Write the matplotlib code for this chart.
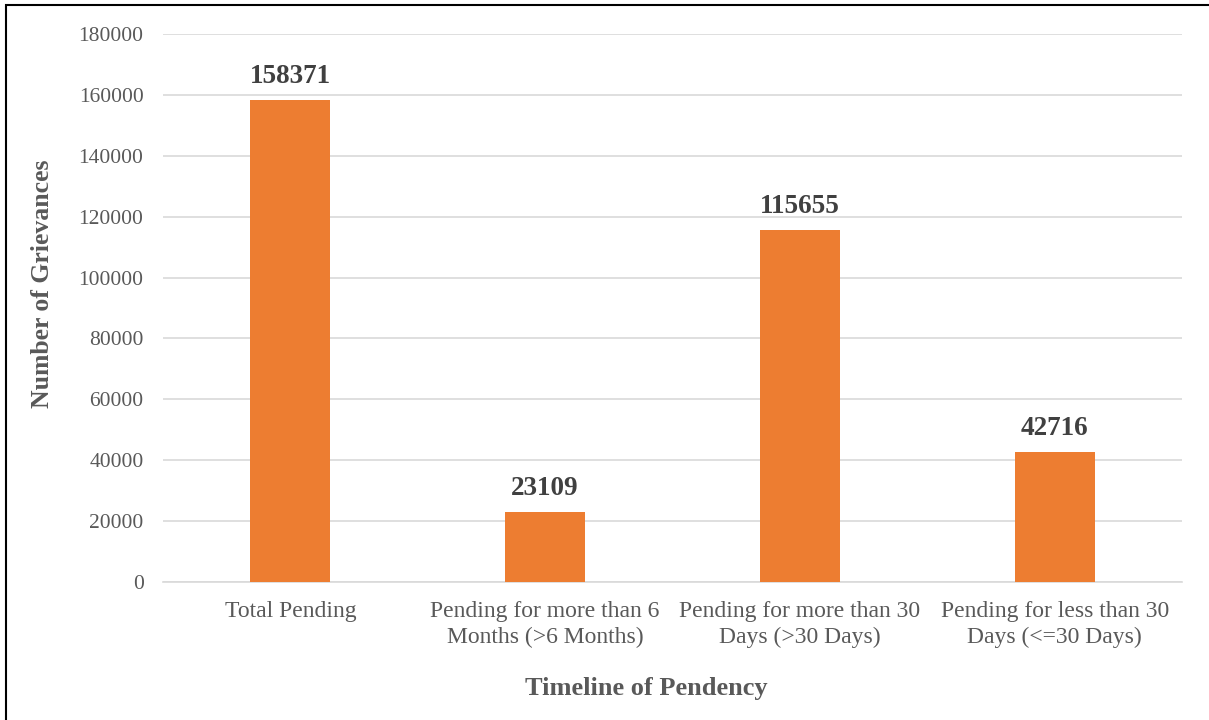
import matplotlib
matplotlib.use("Agg")
from matplotlib import pyplot as plt
from matplotlib.patches import Rectangle

# Pending grievances by timeline
categories = ["Total Pending",
              "Pending for more than 6\nMonths (>6 Months)",
              "Pending for more than 30\nDays (>30 Days)",
              "Pending for less than 30\nDays (<=30 Days)"]
counts = [158371, 23109, 115655, 42716]
y_ticks = [0, 20000, 40000, 60000, 80000, 100000, 120000, 140000, 160000, 180000]

plt.rcParams['font.family'] = ['Liberation Serif', 'DejaVu Serif']

fig = plt.figure(figsize=(12.09, 7.2), dpi=100)
ax = fig.add_axes([0.1348, 0.1917, 0.8429, 0.7611])

x = range(len(categories))
ax.bar(x, counts, width=0.315, color="#ED7D31", zorder=3)

for xi, v in zip(x, counts):
    ax.text(xi, v + 3600, str(v), ha='center', va='bottom',
            fontsize=19.5, fontweight='bold', color='#404040')

ax.set_xlim(-0.5, len(categories) - 0.5)
ax.set_ylim(0, 180000)
ax.set_yticks(y_ticks)
ax.set_yticklabels([str(t) for t in y_ticks], fontsize=15.5, color='#595959')
ax.set_xticks(list(x))
ax.set_xticklabels(categories, fontsize=17, color='#595959', linespacing=1.3)
ax.tick_params(axis='both', length=0)
ax.tick_params(axis='x', pad=14)
ax.tick_params(axis='y', pad=14)

ax.grid(axis='y', color='#D9D9D9', linewidth=1.2, zorder=0)
for side in ['top', 'right', 'left']:
    ax.spines[side].set_visible(False)
ax.spines['bottom'].set_color('#D9D9D9')
ax.spines['bottom'].set_linewidth(1.2)

ax.set_ylabel('Number of Grievances', fontsize=18.5, fontweight='bold',
              color='#595959', va='center')
ax.yaxis.set_label_coords(-0.118, 0.544)
ax.set_xlabel('Timeline of Pendency', fontsize=19, fontweight='bold',
              color='#595959', va='center')
ax.xaxis.set_label_coords(0.474, -0.195)

# chart frame (right and bottom edges fall outside the canvas)
fig.patches.append(Rectangle((6 / 1209, -0.05), 1.2, 1 - 5 / 720 + 0.05,
                             transform=fig.transFigure, fill=False,
                             edgecolor='black', linewidth=1.5))

fig.savefig('out.png', dpi=100)
